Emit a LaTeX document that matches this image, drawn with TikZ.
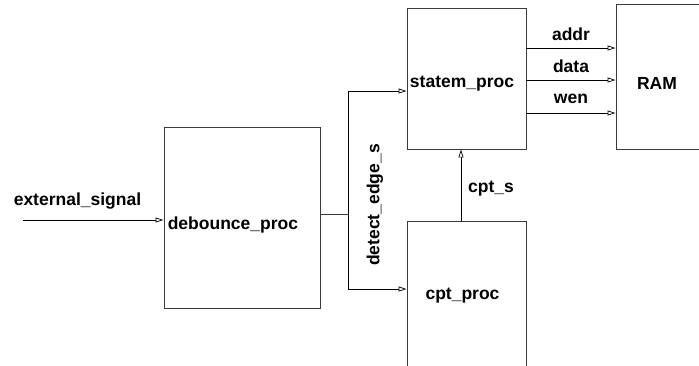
\documentclass[tikz,border=0pt]{standalone}
\usepackage{fontspec}
\setmainfont{Liberation Sans}
\usetikzlibrary{arrows.meta,positioning,calc}
\definecolor{boxgray}{HTML}{3A3A3A}

\begin{document}
\begin{tikzpicture}[x=1pt,y=-1pt,
    procbox/.style={draw=boxgray,line width=0.9pt,inner sep=0pt},
    sig/.style={draw=black,line width=0.7pt,-{Triangle[open,length=8pt,width=5pt]}},
    wire/.style={draw=boxgray,line width=0.7pt},
    lbl/.style={font=\bfseries\fontsize{17.5}{20}\selectfont,inner sep=1pt}]
  \useasboundingbox (0,0) rectangle (699,365);
  % process blocks
  \node[procbox,minimum width=156pt,minimum height=181pt] (debounce) at (242,217.5) {};
  \node[procbox,minimum width=119pt,minimum height=141pt] (statem) at (466.5,78.5) {};
  \node[procbox,minimum width=119pt,minimum height=150pt] (cpt) at (466.5,296) {};
  \node[procbox,minimum width=84pt,minimum height=145pt] (ram) at (658,76.5) {};
  % block names
  \node[lbl,anchor=west] (debouncelbl) at ($(debounce.west)+(3,7)$) {debounce\_proc};
  \node[lbl] (statemlbl) at ($(statem.center)+(-4.5,5)$) {statem\_proc};
  \node[lbl] (cptlbl) at ($(cpt.center)+(-4,0)$) {cpt\_proc};
  \node[lbl] (ramlbl) at ($(ram.center)+(-1,7)$) {RAM};
  % input
  \coordinate (ext) at (23,220);
  \draw[sig] (ext) -- (ext -| debounce.west);
  \node[lbl] (extlbl) at (77.5,201) {external\_signal};
  % edge detect fork
  \coordinate (fork) at (348,214);
  \coordinate (toStatem) at (348,91);
  \coordinate (toCpt) at (348,289);
  \draw[wire] (debounce.east |- fork) -- (fork);
  \draw[sig] (fork) -- (toStatem) -- (toStatem -| statem.west);
  \draw[sig] (fork) -- (toCpt) -- (toCpt -| cpt.west);
  \node[lbl,rotate=90] (edgelbl) at (375,205) {detect\_edge\_s};
  % counter to state machine
  \coordinate (cptout) at (461,0);
  \draw[sig] (cptout |- cpt.north) -- (cptout |- statem.south);
  \node[lbl] (cptslbl) at (491,189) {cpt\_s};
  % ram bus
  \foreach \yy/\name in {48/addr,80/data,113/wen}{
    \draw[sig] (statem.east |- 0,\yy) -- (ram.west |- 0,\yy);
    \node[lbl] (\name lbl) at (571,\yy-14) {\name};
  }
\end{tikzpicture}
\end{document}
